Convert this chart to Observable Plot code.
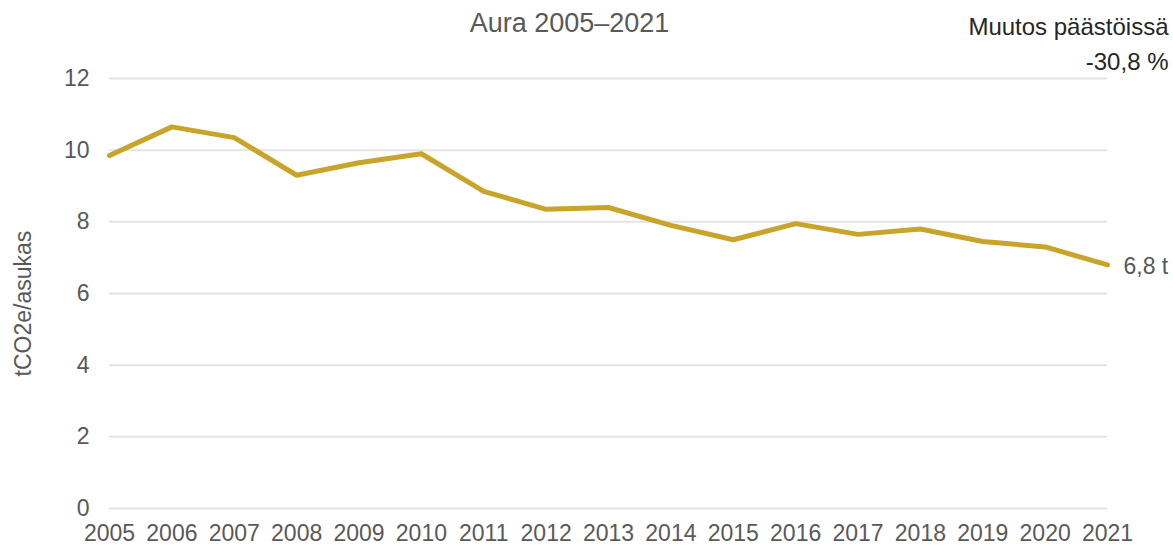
<!DOCTYPE html>
<html>
<head>
<meta charset="utf-8">
<script src="https://cdn.jsdelivr.net/npm/d3@7"></script>
<script src="https://cdn.jsdelivr.net/npm/@observablehq/plot@0.6"></script>
<style>
  html, body { margin: 0; padding: 0; background: #fff; }
  #chart { width: 1173px; height: 548px; }
</style>
</head>
<body>
<div id="chart"></div>
<script>
// ---- data ----
const years = [2005, 2006, 2007, 2008, 2009, 2010, 2011, 2012, 2013, 2014, 2015, 2016, 2017, 2018, 2019, 2020, 2021];
const emissions = [9.85, 10.65, 10.35, 9.3, 9.65, 9.9, 8.85, 8.35, 8.4, 7.9, 7.5, 7.95, 7.65, 7.8, 7.45, 7.3, 6.8];
const yTicks = [0, 2, 4, 6, 8, 10, 12];
const titleText = ["Aura 2005–2021"];
const changeLabel = ["Muutos päästöissä"];
const changeValue = ["-30,8 %"];
const endLabel = ["6,8 t"];
const yLabel = ["tCO2e/asukas"];

const rows = years.map((y, i) => ({year: y, value: emissions[i]}));
const last = [rows[rows.length - 1]];

const font = "'Liberation Sans', Arial, Helvetica, sans-serif";
const gold = "#c9a42b";
const gray = "#595959";

const chart = Plot.plot({
  width: 1173,
  height: 548,
  marginLeft: 109,
  marginRight: 66,
  marginTop: 78,
  marginBottom: 40,
  style: {fontFamily: font, fontSize: "23px", color: gray, background: "#fff", overflow: "visible"},
  x: {domain: [2005, 2021], ticks: years, tickFormat: d => String(d), tickSize: 0, tickPadding: 16, label: null},
  y: {domain: [0, 12], ticks: yTicks, tickSize: 0, tickPadding: 20, label: null},
  marks: [
    Plot.ruleY(yTicks, {stroke: "#e3e3e3", strokeWidth: 2}),
    Plot.line(rows, {x: "year", y: "value", stroke: gold, strokeWidth: 5, strokeLinejoin: "miter"}),
    Plot.text(last, {x: "year", y: "value", text: () => endLabel[0], textAnchor: "start", lineAnchor: "middle", dx: 16, dy: 2, fill: gray, fontSize: 23}),
    Plot.text(titleText, {frameAnchor: "top", text: d => d, textAnchor: "middle", lineAnchor: "middle", dx: -39, dy: -55, fill: gray, fontSize: 27}),
    Plot.text(changeLabel, {frameAnchor: "top-right", text: d => d, textAnchor: "end", lineAnchor: "middle", dx: 61, dy: -51, fill: "#262626", fontSize: 24}),
    Plot.text(changeValue, {frameAnchor: "top-right", text: d => d, textAnchor: "end", lineAnchor: "middle", dx: 61, dy: -16, fill: "#262626", fontSize: 24}),
    Plot.text(yLabel, {frameAnchor: "left", text: d => d, rotate: -90, textAnchor: "middle", lineAnchor: "middle", dx: -86, dy: 10, fill: gray, fontSize: 23})
  ]
});
document.getElementById("chart").appendChild(chart);
</script>
</body>
</html>
